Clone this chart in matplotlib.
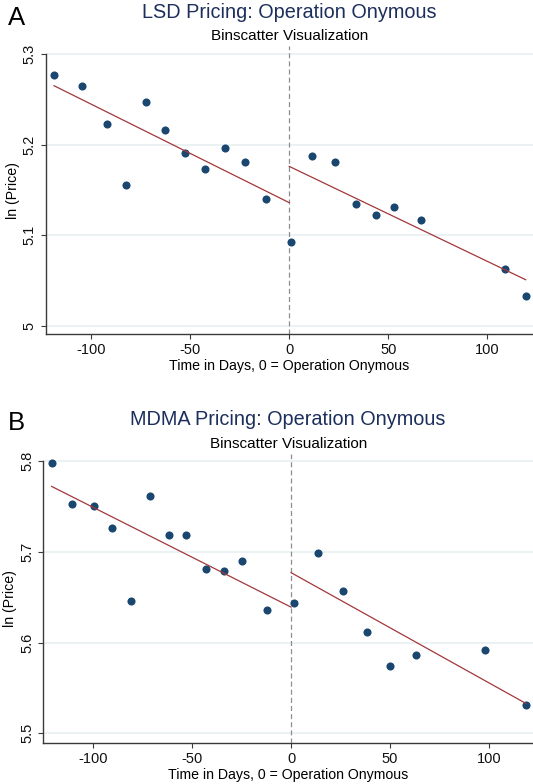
import matplotlib
matplotlib.use("Agg")
import matplotlib.pyplot as plt

plt.rcParams['font.family'] = ['Liberation Sans', 'DejaVu Sans']

W, H = 533, 784

# Panel A: LSD binscatter
lsd_days = [-118.8, -104.8, -92.2, -82.5, -72.5, -62.6, -52.7, -42.4, -32.6, -22.4, -11.9,
            0.9, 11.5, 22.9, 33.5, 43.6, 52.9, 66.4, 108.9, 119.4]
lsd_price = [5.277, 5.265, 5.223, 5.156, 5.247, 5.216, 5.191, 5.173, 5.196, 5.181, 5.140,
             5.093, 5.187, 5.181, 5.135, 5.122, 5.131, 5.117, 5.063, 5.033]
lsd_fit_pre = [5.265, 5.136]
lsd_fit_post = [5.176, 5.051]
lsd_yticks = [5.0, 5.1, 5.2, 5.3]
lsd_ylabels = ["5", "5.1", "5.2", "5.3"]

# Panel B: MDMA binscatter
mdma_days = [-120.9, -110.4, -99.6, -90.2, -81.0, -71.4, -61.8, -53.2, -42.9, -33.7, -24.7, -12.1,
             1.5, 13.8, 26.1, 38.2, 49.8, 63.1, 98.1, 118.5]
mdma_price = [5.798, 5.753, 5.750, 5.726, 5.646, 5.761, 5.719, 5.719, 5.681, 5.679, 5.690, 5.636,
              5.644, 5.699, 5.657, 5.612, 5.574, 5.586, 5.592, 5.531]
mdma_fit_pre = [5.772, 5.639]
mdma_fit_post = [5.677, 5.533]
mdma_yticks = [5.5, 5.6, 5.7, 5.8]
mdma_ylabels = ["5.5", "5.6", "5.7", "5.8"]

xticks = [-100, -50, 0, 50, 100]

NAVY = '#1a476f'
FIT = '#a3383a'
TITLE = '#1c2f5c'
SPINE = '#3a3a3a'
GRID = '#e8f0f2'


def draw_panel(box, days, price, fit_pre, fit_post, yticks, ylabels, xlim, ylim,
               letter, title, y_letter, y_title, y_sub):
    left, top, right, bottom = box
    ax = fig.add_axes([left / W, 1 - bottom / H, (right - left) / W, (bottom - top) / H])
    ax.set_xlim(*xlim)
    ax.set_ylim(*ylim)
    for s in ['top', 'right']:
        ax.spines[s].set_visible(False)
    for s in ['left', 'bottom']:
        ax.spines[s].set_color(SPINE)
        ax.spines[s].set_linewidth(1.0)
    ax.spines['left'].set_bounds(ylim[0], yticks[-1])
    ax.set_yticks(yticks)
    ax.set_yticklabels(ylabels, rotation=90, va='center')
    ax.set_xticks(xticks)
    ax.set_xticklabels([str(t) for t in xticks])
    ax.tick_params(axis='both', length=3.5, width=0.8, color=SPINE, labelsize=10.5,
                   labelcolor='#111111', pad=3)
    for t in yticks:
        ax.axhline(t, color=GRID, lw=1.2, zorder=0)
    ax.axvline(0, color='#8f8f8f', lw=0.9, ls=(0, (4, 2.5)), zorder=1)

    ax.scatter(days, price, s=34, color=NAVY, zorder=3, linewidths=0)
    ax.plot([days[0], 0], fit_pre, color=FIT, lw=0.9, zorder=4)
    ax.plot([0, days[-1]], fit_post, color=FIT, lw=0.9, zorder=4)

    ax.set_xlabel("Time in Days, 0 = Operation Onymous", fontsize=10.2, labelpad=1.5)
    ax.set_ylabel("ln (Price)", fontsize=10.2, labelpad=2)

    cx = (left + right) / 2 / W
    fig.text(8 / W, 1 - y_letter / H, letter, fontsize=18.5, va='baseline', ha='left')
    fig.text(cx, 1 - y_title / H, title, fontsize=14.3, color=TITLE, va='baseline', ha='center')
    fig.text(cx, 1 - y_sub / H, "Binscatter Visualization", fontsize=11,
             va='baseline', ha='center')
    return ax


fig = plt.figure(figsize=(W / 100, H / 100), dpi=100)

draw_panel((45.7, 46, 533, 334.3), lsd_days, lsd_price, lsd_fit_pre, lsd_fit_post,
           lsd_yticks, lsd_ylabels, (-123, 123.1), (4.9908, 5.3088),
           "A", "LSD Pricing: Operation Onymous", 25, 18, 40)
draw_panel((43.3, 454, 533, 742.7), mdma_days, mdma_price, mdma_fit_pre, mdma_fit_post,
           mdma_yticks, mdma_ylabels, (-125.1, 122.2), (5.4896, 5.8077),
           "B", "MDMA Pricing: Operation Onymous", 430, 425, 448.3)

fig.savefig("out.png", dpi=100)
